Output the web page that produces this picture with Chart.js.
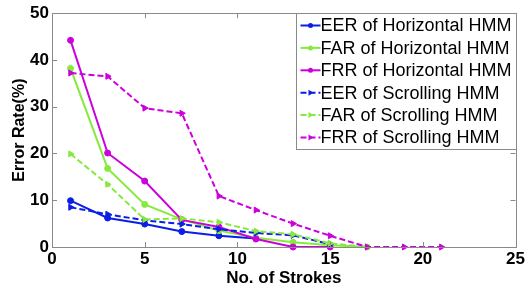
<!DOCTYPE html>
<html><head><meta charset="utf-8">
<script src="https://cdn.jsdelivr.net/npm/chart.js@4"></script>
<style>html,body{margin:0;padding:0;background:#fff}#wrap{width:527px;height:289px}</style></head>
<body><div id="wrap"><canvas id="c" width="527" height="289"></canvas></div>
<script>
const strokes = [1,3,5,7,9,11,13,15,17,19,21];
const eerHorizontal = [9.9,6.2,4.9,3.3,2.4,1.8];
const farHorizontal = [38.2,16.8,9.1,5.9,3.5,2.0,1.0,0.4,0];
const frrHorizontal = [44.2,20.1,14.1,5.8,4.3,1.7,0,0];
const eerScrolling = [8.5,7.0,5.7,4.9,3.8,3.0,2.5,0.6];
const farScrolling = [19.9,13.4,5.9,6.1,5.3,3.4,2.7,0.8,0];
const frrScrolling = [37.2,36.5,29.7,28.6,10.9,7.9,5.0,2.4,0,0,0];
const seriesLabels = ['EER of Horizontal HMM','FAR of Horizontal HMM','FRR of Horizontal HMM','EER of Scrolling HMM','FAR of Scrolling HMM','FRR of Scrolling HMM'];
const xTicks = [0,5,10,15,20,25];
const yTicks = [0,10,20,30,40,50];

const BLUE = '#0a1ee6', GREEN = '#86ea3c', MAGENTA = '#cc00dd';
const FONT = '"Liberation Sans", Arial, sans-serif';

function pts(vals){ return vals.map((v,i)=>({x:strokes[i], y:v})); }
function ds(label, vals, color, dashed, idx){
  return {
    label, data: pts(vals), borderColor: color, backgroundColor: color,
    borderWidth: 2, borderDash: dashed ? [6,3] : [],
    pointStyle: dashed ? 'triangle' : 'circle', rotation: dashed ? 90 : 0,
    pointRadius: dashed ? 3.5 : 3, pointBorderWidth: 1, pointHoverRadius: 3,
    fill: false, tension: 0, clip: 6, order: 6 - idx
  };
}
const allSeries = [eerHorizontal, farHorizontal, frrHorizontal, eerScrolling, farScrolling, frrScrolling];
const colors = [BLUE, GREEN, MAGENTA, BLUE, GREEN, MAGENTA];
const datasets = allSeries.map((v,i)=>ds(seriesLabels[i], v, colors[i], i>=3, i));

const boxPlugin = {
  id: 'boxPlugin',
  afterDatasetsDraw(chart){
    const {ctx, chartArea:a, scales} = chart;
    ctx.save();
    ctx.strokeStyle = '#8a8a8a'; ctx.lineWidth = 1;
    ctx.strokeRect(Math.round(a.left)+0.5, Math.round(a.top)+0.5, Math.round(a.right-a.left), Math.round(a.bottom-a.top));
    const tl = 5;
    ctx.beginPath();
    xTicks.forEach(t=>{ const x = Math.round(scales.x.getPixelForValue(t))+0.5;
      ctx.moveTo(x, a.bottom); ctx.lineTo(x, a.bottom - tl);
      ctx.moveTo(x, a.top); ctx.lineTo(x, a.top + tl); });
    yTicks.forEach(t=>{ const y = Math.round(scales.y.getPixelForValue(t))+0.5;
      ctx.moveTo(a.left, y); ctx.lineTo(a.left + tl, y);
      ctx.moveTo(a.right, y); ctx.lineTo(a.right - tl, y); });
    ctx.stroke();

    // legend
    const x1 = Math.round(a.right)+0.5, y0 = Math.round(a.top)+0.5;
    const x0 = x1 - 220, y1 = y0 + 136;
    ctx.fillStyle = '#fff';
    ctx.fillRect(x0, y0, x1-x0, y1-y0);
    ctx.strokeStyle = '#8a8a8a';
    ctx.strokeRect(x0, y0, x1-x0, y1-y0);
    chart.data.datasets.forEach((d,i)=>{
      const y = y0 + 12 + i*22.4;
      ctx.strokeStyle = d.borderColor; ctx.lineWidth = 2;
      ctx.setLineDash(d.borderDash);
      ctx.beginPath(); ctx.moveTo(x0+4, y); ctx.lineTo(x0+24, y); ctx.stroke();
      ctx.setLineDash([]);
      ctx.fillStyle = d.borderColor;
      ctx.beginPath();
      if (d.pointStyle === 'circle') { ctx.arc(x0+14, y, 2.5, 0, Math.PI*2); }
      else { ctx.moveTo(x0+17, y); ctx.lineTo(x0+12, y-3); ctx.lineTo(x0+12, y+3); ctx.closePath(); }
      ctx.fill();
      ctx.fillStyle = '#000'; ctx.font = '18px ' + FONT; ctx.textBaseline = 'middle'; ctx.textAlign='left';
      ctx.fillText(d.label, x0 + 24, y + 1);
    });
    ctx.restore();
  }
};

new Chart(document.getElementById('c'), {
  type: 'line',
  data: { datasets },
  options: {
    responsive: false, animation: false, devicePixelRatio: 1,
    layout: { padding: { top: 13, right: 10, left: 0, bottom: 0 } },
    plugins: { legend: { display: false }, tooltip: { enabled: false } },
    scales: {
      x: { type: 'linear', min: 0, max: 25,
        afterBuildTicks: s => { s.ticks = xTicks.map(v=>({value:v})); },
        afterFit: s => { s.height = 42; },
        grid: { display: false, drawTicks: false }, border: { display: false },
        ticks: { color: '#000', font: { family: FONT, size: 17, weight: 'bold' }, padding: 2, maxRotation: 0 },
        title: { display: true, text: 'No. of Strokes', color: '#000', font: { family: FONT, size: 17, weight: 'bold' }, padding: { top: 0, bottom: 0 } }
      },
      y: { type: 'linear', min: 0, max: 50,
        afterBuildTicks: s => { s.ticks = yTicks.map(v=>({value:v})); },
        afterFit: s => { s.width = 52; },
        grid: { display: false, drawTicks: false }, border: { display: false },
        ticks: { color: '#000', font: { family: FONT, size: 17, weight: 'bold' }, padding: 3 },
        title: { display: true, text: 'Error Rate(%)', color: '#000', font: { family: FONT, size: 16, weight: 'bold' }, padding: { top: 10, bottom: 0 } }
      }
    }
  },
  plugins: [boxPlugin]
});
</script></body></html>
